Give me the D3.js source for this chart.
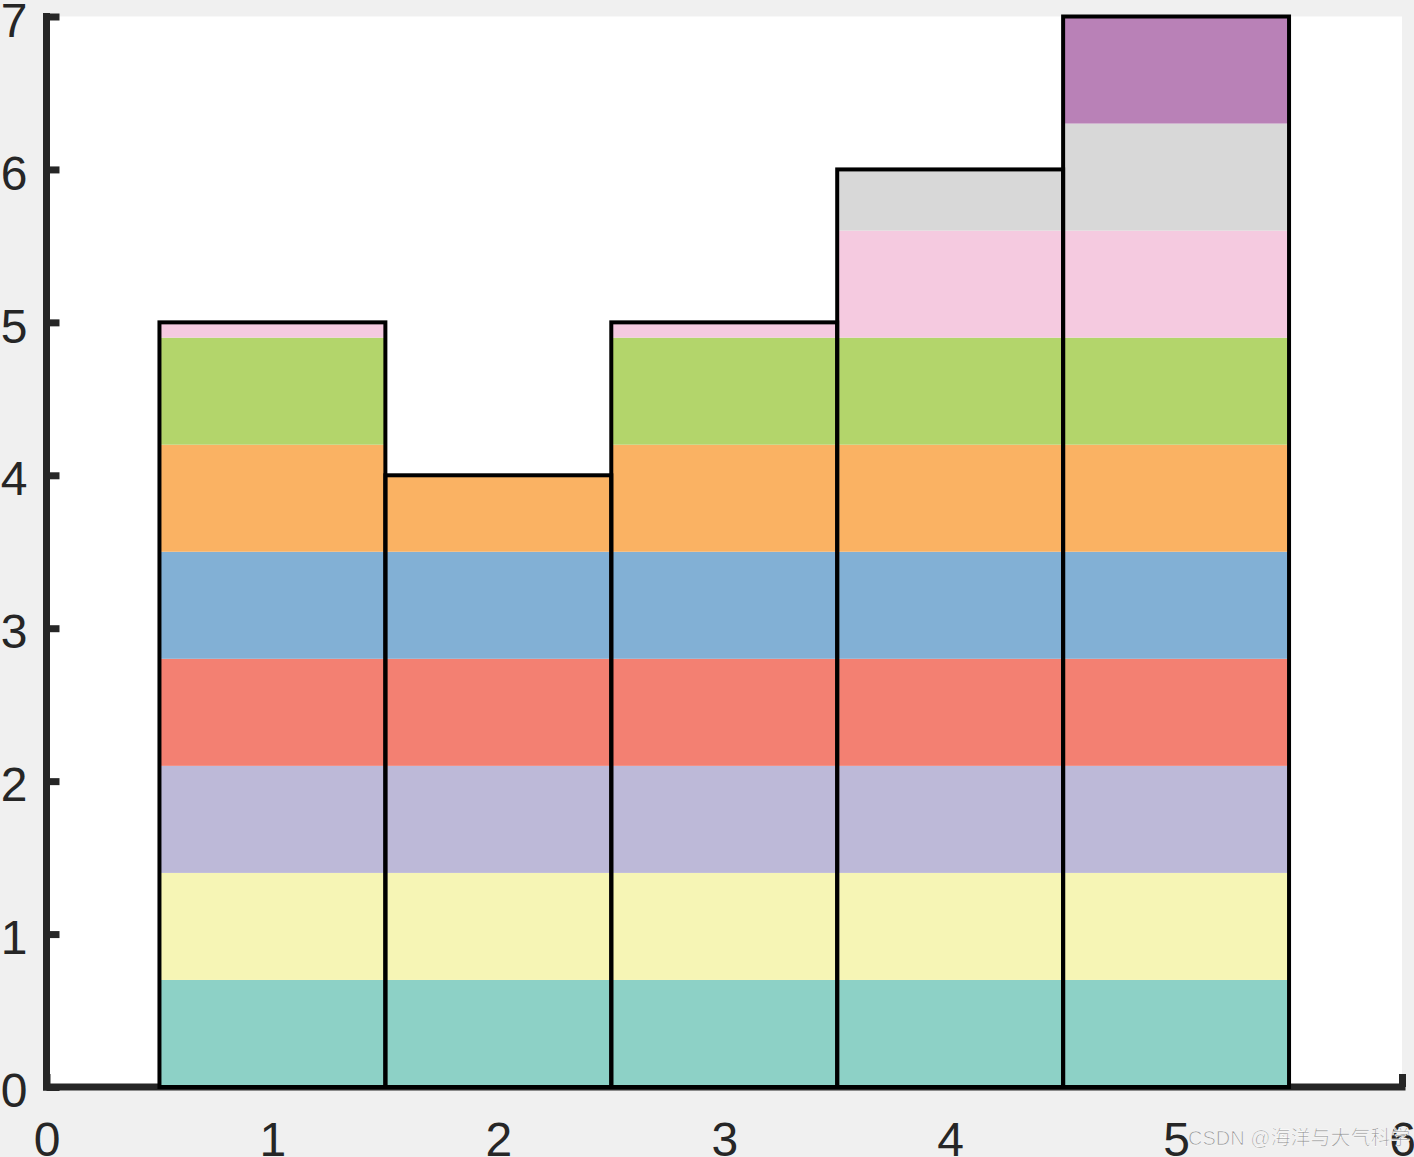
<!DOCTYPE html>
<html>
<head>
<meta charset="utf-8">
<style>
  body { margin: 0; background: #f0f0f0; }
  svg { display: block; font-family: "Liberation Sans", Arial, sans-serif; }
</style>
</head>
<body>
<div id="chart"></div>
<script src="https://d3js.org/d3.v7.min.js"></script>
<script>
  // bar positions
  const categories = [1, 2, 3, 4, 5];

  // stacked layers, bottom to top (one value per bar)
  const layer1 = [0.7, 0.7, 0.7, 0.7, 0.7];
  const layer2 = [0.7, 0.7, 0.7, 0.7, 0.7];
  const layer3 = [0.7, 0.7, 0.7, 0.7, 0.7];
  const layer4 = [0.7, 0.7, 0.7, 0.7, 0.7];
  const layer5 = [0.7, 0.7, 0.7, 0.7, 0.7];
  const layer6 = [0.7, 0.5, 0.7, 0.7, 0.7];
  const layer7 = [0.7, 0.0, 0.7, 0.7, 0.7];
  const layer8 = [0.1, 0.0, 0.1, 0.7, 0.7];
  const layer9 = [0.0, 0.0, 0.0, 0.4, 0.7];
  const layer10 = [0.0, 0.0, 0.0, 0.0, 0.7];
  const layers = [layer1, layer2, layer3, layer4, layer5, layer6, layer7, layer8, layer9, layer10];

  const layerColors = ["#8dd1c6", "#f6f5b5", "#bdb9d8", "#f38072", "#82b0d5",
                       "#fab263", "#b3d56b", "#f5cae0", "#d8d8d8", "#b981b7"];

  const xTicks = [0, 1, 2, 3, 4, 5, 6];
  const yTicks = [0, 1, 2, 3, 4, 5, 6, 7];

  const W = 1414, H = 1157;
  const plotL = 46.5, plotR = 1402, plotT = 16.5, plotB = 1087;

  const svg = d3.select("#chart").append("svg")
    .attr("width", W)
    .attr("height", H);

  svg.append("rect")
    .attr("width", W).attr("height", H)
    .attr("fill", "#f0f0f0");

  const x = d3.scaleLinear().domain([0, 6]).range([plotL, plotR]);
  const y = d3.scaleLinear().domain([0, 7]).range([plotB, plotT]);

  // white plot area
  svg.append("rect")
    .attr("x", plotL).attr("y", plotT)
    .attr("width", plotR - plotL).attr("height", plotB - plotT)
    .attr("fill", "#ffffff");

  // axes (drawn below the bars)
  const axisColor = "#262626";
  const yAxis = svg.append("g")
    .attr("transform", "translate(" + plotL + ",0)")
    .call(d3.axisLeft(y).tickValues(yTicks).tickFormat(d3.format("d"))
      .tickSizeInner(-13).tickSizeOuter(0).tickPadding(19));

  const xAxis = svg.append("g")
    .attr("transform", "translate(0," + plotB + ")")
    .call(d3.axisBottom(x).tickValues(xTicks).tickFormat(d3.format("d"))
      .tickSizeInner(-13).tickSizeOuter(0).tickPadding(35));

  [yAxis, xAxis].forEach(g => {
    g.select(".domain").remove();
    g.selectAll(".tick line")
      .attr("stroke", axisColor)
      .attr("stroke-width", 7);
    g.selectAll(".tick text")
      .attr("fill", axisColor)
      .style("font-size", "48px")
      .style("font-family", "'Liberation Sans', Arial, sans-serif");
  });
  yAxis.selectAll(".tick text").attr("dy", "0.41em");

  // axis lines
  svg.append("line")
    .attr("x1", plotL).attr("x2", plotL)
    .attr("y1", plotT).attr("y2", plotB)
    .attr("stroke", axisColor).attr("stroke-width", 7)
    .attr("stroke-linecap", "square");
  svg.append("line")
    .attr("x1", plotL).attr("x2", plotR)
    .attr("y1", plotB).attr("y2", plotB)
    .attr("stroke", axisColor).attr("stroke-width", 7)
    .attr("stroke-linecap", "square");

  // stacked data
  const table = categories.map((c, i) => {
    const row = { cat: c };
    layers.forEach((l, j) => { row["s" + j] = l[i]; });
    return row;
  });
  const keys = layers.map((l, j) => "s" + j);
  const stacked = d3.stack().keys(keys)(table);

  const bw = 1; // bar width in data units

  svg.append("g").selectAll("g")
    .data(stacked)
    .enter().append("g")
    .attr("fill", (d, i) => layerColors[i])
    .selectAll("rect")
    .data(d => d.filter(p => p[1] - p[0] > 0))
    .enter().append("rect")
    .attr("x", d => x(d.data.cat - bw / 2))
    .attr("width", d => x(d.data.cat + bw / 2) - x(d.data.cat - bw / 2))
    .attr("y", d => y(d[1]))
    .attr("height", d => y(d[0]) - y(d[1]));

  // outline of each bar
  const totals = stacked[stacked.length - 1];
  svg.append("g").selectAll("rect")
    .data(totals)
    .enter().append("rect")
    .attr("x", d => x(d.data.cat - bw / 2))
    .attr("width", d => x(d.data.cat + bw / 2) - x(d.data.cat - bw / 2))
    .attr("y", d => y(d[1]))
    .attr("height", d => y(0) - y(d[1]))
    .attr("fill", "none")
    .attr("stroke", "#000")
    .attr("stroke-width", 4);

  // watermark
  svg.append("text")
    .attr("x", 1188).attr("y", 1145)
    .attr("fill", "#9a9a9a")
    .attr("stroke", "#ffffff").attr("stroke-width", 0.6)
    .style("font-size", "20px")
    .style("font-family", "'Liberation Sans', 'Noto Sans CJK SC', sans-serif")
    .text("CSDN @海洋与大气科学");
</script>
</body>
</html>
